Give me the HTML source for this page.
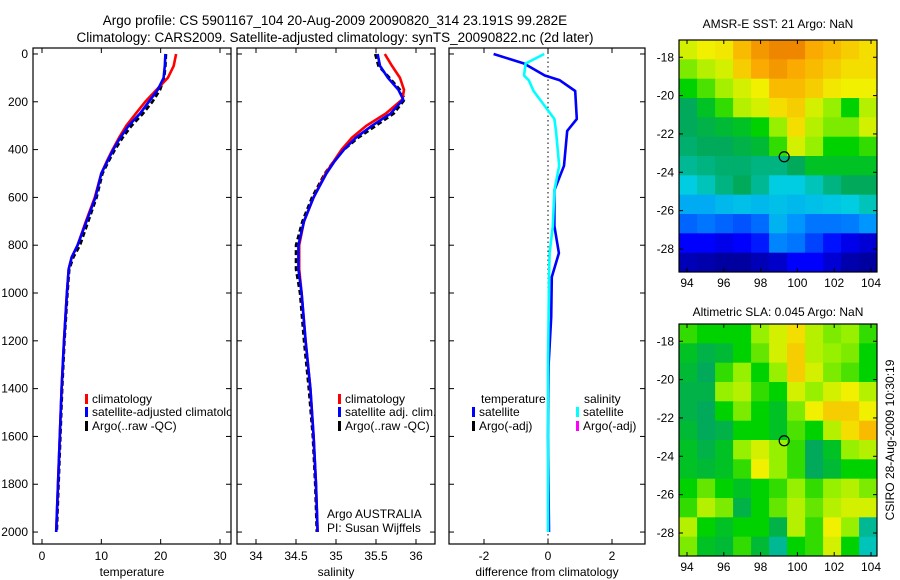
<!DOCTYPE html>
<html><head><meta charset="utf-8">
<style>
html,body{margin:0;padding:0;background:#fff;}
svg{display:block;font-family:"Liberation Sans",sans-serif;}
</style></head>
<body>
<svg id="chart" width="900" height="580" viewBox="0 0 900 580" xmlns="http://www.w3.org/2000/svg">
<text x="335" y="25" text-anchor="middle" font-size="13.5">Argo profile: CS 5901167_104 20-Aug-2009 20090820_314 23.191S 99.282E</text>
<text x="335" y="42" text-anchor="middle" font-size="13.5">Climatology: CARS2009. Satellite-adjusted climatology: synTS_20090822.nc (2d later)</text>
<text x="778" y="28" text-anchor="middle" font-size="12">AMSR-E SST: 21 Argo: NaN</text>
<text x="778" y="316" text-anchor="middle" font-size="12">Altimetric SLA: 0.045 Argo: NaN</text>
<text x="0" y="0" transform="translate(894,440) rotate(-90)" text-anchor="middle" font-size="12">CSIRO 28-Aug-2009 10:30:19</text>
</svg>
<script>
// ---- data ----
const depths = [0,50,100,150,200,250,300,350,400,450,500,600,700,800,850,900,1000,1200,1400,1600,1800,2000];
const tempSat = [20.8,20.7,20.5,19.5,18,16.5,14.6,13.2,12,11,10,9,7.5,6,5,4.5,4.2,3.7,3.3,3,2.7,2.4];
const tempClim = [22.6,22.2,21.2,19.3,17.4,15.8,14.2,13,11.9,10.9,10,8.9,7.4,6,5,4.5,4.2,3.7,3.3,3,2.7,2.4];
const tempArgo = [20.9,20.8,20.6,19.9,18.6,17,15.1,13.6,12.3,11.2,10.2,9.2,7.8,6.4,5.3,4.6,4.3,3.8,3.4,3.1,2.8,2.5];
const salDepths = [0,50,100,150,190,250,300,350,400,450,500,600,700,800,900,1000,1200,1400,1600,1800,2000];
const salSat = [35.52,35.55,35.65,35.78,35.84,35.68,35.45,35.25,35.1,34.98,34.88,34.72,34.6,34.53,34.53,34.57,34.62,34.68,34.72,34.75,34.77];
const salClim = [35.61,35.7,35.8,35.85,35.83,35.62,35.38,35.2,35.07,34.97,34.87,34.72,34.6,34.54,34.54,34.57,34.62,34.68,34.72,34.75,34.77];
const salArgo = [35.49,35.53,35.67,35.8,35.86,35.72,35.5,35.28,35.1,34.97,34.86,34.7,34.58,34.5,34.5,34.55,34.6,34.66,34.71,34.74,34.76];
const diffDepths = [0,40,90,110,155,272,322,468,570,720,833,933,1100,1300,1600,2000];
const diffTemp = [-1.7,-0.75,-0.1,0.37,0.85,0.9,0.6,0.5,0.2,0.2,0.34,0.12,0.1,0.02,0,0.03];
const diffSal = [-0.12,-0.7,-0.75,-0.6,-0.45,0.2,0.25,0.35,0.2,0.15,0.05,0.03,0.02,0,0,0];
const depthTicks = [0,200,400,600,800,1000,1200,1400,1600,1800,2000];
const tempTicks = [0,10,20,30];
const salTicks = [34,34.5,35,35.5,36];
const diffTicks = [-2,0,2];
const lonTicks = [94,96,98,100,102,104];
const latTicks = [-18,-20,-22,-24,-26,-28];
const sstGrid = [
[0.6,0.62,0.63,0.68,0.72,0.74,0.74,0.7,0.68,0.66,0.64],
[0.55,0.58,0.6,0.66,0.7,0.72,0.7,0.68,0.66,0.64,0.64],
[0.5,0.53,0.57,0.6,0.62,0.68,0.68,0.66,0.63,0.62,0.62],
[0.45,0.48,0.52,0.58,0.6,0.64,0.66,0.6,0.56,0.5,0.58],
[0.45,0.46,0.47,0.48,0.5,0.56,0.64,0.58,0.55,0.55,0.6],
[0.44,0.45,0.45,0.46,0.47,0.52,0.6,0.56,0.5,0.5,0.52],
[0.42,0.43,0.44,0.44,0.43,0.43,0.45,0.48,0.48,0.48,0.48],
[0.38,0.40,0.43,0.45,0.42,0.38,0.38,0.40,0.43,0.45,0.45],
[0.33,0.33,0.35,0.36,0.35,0.36,0.35,0.36,0.37,0.38,0.40],
[0.24,0.26,0.24,0.22,0.25,0.34,0.3,0.26,0.26,0.27,0.3],
[0.12,0.12,0.1,0.12,0.15,0.28,0.26,0.2,0.14,0.1,0.08],
[0.05,0.04,0.03,0.03,0.05,0.07,0.12,0.12,0.08,0.04,0.03]];
const slaGrid = [
[0.52,0.5,0.5,0.5,0.56,0.6,0.64,0.58,0.55,0.56,0.52],
[0.48,0.46,0.47,0.5,0.54,0.6,0.66,0.58,0.56,0.55,0.5],
[0.47,0.45,0.52,0.56,0.5,0.56,0.66,0.6,0.55,0.53,0.5],
[0.46,0.46,0.56,0.58,0.52,0.5,0.6,0.56,0.6,0.62,0.58],
[0.46,0.45,0.5,0.55,0.5,0.48,0.55,0.62,0.66,0.66,0.62],
[0.47,0.45,0.46,0.5,0.5,0.48,0.53,0.5,0.58,0.64,0.68],
[0.48,0.46,0.48,0.56,0.6,0.56,0.52,0.45,0.48,0.56,0.58],
[0.48,0.47,0.48,0.52,0.62,0.56,0.52,0.45,0.47,0.5,0.5],
[0.5,0.54,0.5,0.48,0.5,0.52,0.56,0.52,0.56,0.58,0.55],
[0.52,0.58,0.55,0.46,0.5,0.54,0.58,0.54,0.58,0.6,0.6],
[0.58,0.5,0.48,0.5,0.5,0.46,0.58,0.52,0.62,0.56,0.42],
[0.55,0.48,0.47,0.52,0.47,0.42,0.5,0.52,0.6,0.5,0.4]];
const argoLon = 99.282, argoLat = -23.191;

// ---- helpers ----
const svg = document.getElementById('chart');
const NS = 'http://www.w3.org/2000/svg';
function mk(tag, attrs, parent){const e=document.createElementNS(NS,tag);for(const k in attrs)e.setAttribute(k,attrs[k]);(parent||svg).appendChild(e);return e;}
function lin(d0,d1,r0,r1){return v=>r0+(v-d0)*(r1-r0)/(d1-d0);}
const top0=48, bot0=544;
const yD = lin(-25,2050,top0,bot0);

function panel(name,x0,x1,xs,xTicks,xTitle,showY){
  const g=mk('g',{});
  
  
  const r=mk('rect',{x:x0,y:top0,width:x1-x0,height:bot0-top0,fill:'#fff',stroke:'#000','stroke-width':1.2},g);
  
  
  depthTicks.forEach(d=>{
    const y=yD(d);
    mk('line',{x1:x0,x2:x0+5,y1:y,y2:y,stroke:'#000'},g);
    mk('line',{x1:x1-5,x2:x1,y1:y,y2:y,stroke:'#000'},g);
    if(showY){const t=mk('text',{x:x0-5,y:y+4,'text-anchor':'end','font-size':12},g);t.textContent=d;
      
      }
  });
  xTicks.forEach(v=>{
    const x=xs(v);
    mk('line',{x1:x,x2:x,y1:bot0,y2:bot0-5,stroke:'#000'},g);
    mk('line',{x1:x,x2:x,y1:top0,y2:top0+5,stroke:'#000'},g);
    const t=mk('text',{x:x,y:bot0+16,'text-anchor':'middle','font-size':12},g);t.textContent=v;
    
    
  });
  const tt=mk('text',{x:(x0+x1)/2,y:576,'text-anchor':'middle','font-size':12},g);tt.textContent=xTitle;
  
  
  return g;
}
function line(g,xs,xv,dv,color,name,dash){
  const p=xv.map((v,i)=>xs(v).toFixed(1)+','+yD(dv[i]).toFixed(1)).join(' ');
  const a={points:p,fill:'none',stroke:color,'stroke-width':2.6,'stroke-linejoin':'round'};
  if(dash)a['stroke-dasharray']=dash;
  const e=mk('polyline',a,g);
  
  
}
function legend(g,x,y,color,label){
  mk('rect',{x:x,y:y-9,width:3,height:10,fill:color},g);
  const t=mk('text',{x:x+7,y:y,'font-size':12},g);t.textContent=label;
  
  
}

// Panel 1 temperature
const xT=lin(0,30,42,220);
const g1=panel('temperature-panel',33,231,xT,tempTicks,'temperature',true);
line(g1,xT,tempArgo,depths,'#000','argo-temperature-line','5,3');
line(g1,xT,tempClim,depths,'#f00','climatology-temperature-line');
line(g1,xT,tempSat,depths,'#00f','satellite-temperature-line');
const cl1=mk('clipPath',{id:'c1'});mk('rect',{x:33,y:top0,width:198,height:bot0-top0},cl1);
const lg1=mk('g',{'clip-path':'url(#c1)'},g1);
legend(lg1,85,403,'#f00','climatology');
legend(lg1,85,416,'#00f','satellite-adjusted climatology');
legend(lg1,85,430,'#000','Argo(..raw -QC)');

// Panel 2 salinity
const xS=lin(34,36,256,416);
const g2=panel('salinity-panel',237,435,xS,salTicks,'salinity',false);
line(g2,xS,salArgo,salDepths,'#000','argo-salinity-line','5,3');
line(g2,xS,salClim,salDepths,'#f00','climatology-salinity-line');
line(g2,xS,salSat,salDepths,'#00f','satellite-salinity-line');
legend(g2,338,403,'#f00','climatology');
legend(g2,338,416,'#00f','satellite adj. clim.');
legend(g2,338,430,'#000','Argo(..raw -QC)');
[['Argo AUSTRALIA',518],['PI: Susan Wijffels',532]].forEach(([s,y])=>{const t=mk('text',{x:327,y:y,'font-size':12},g2);t.textContent=s;
  
  });

// Panel 3 difference
const xDf=lin(-2,2,484,612);
const g3=panel('difference-panel',449,645,xDf,diffTicks,'difference from climatology',false);
mk('line',{x1:xDf(0),x2:xDf(0),y1:top0,y2:bot0,stroke:'#000','stroke-dasharray':'1.5,3'},g3);
line(g3,xDf,diffTemp,diffDepths,'#00f','temperature-difference-line');
line(g3,xDf,diffSal,diffDepths,'#0ff','salinity-difference-line');
[['temperature',481],['salinity',584]].forEach(([s,x])=>{const t=mk('text',{x:x,y:403,'font-size':12},g3);t.textContent=s;
  
  });
legend(g3,472,416,'#00f','satellite');
legend(g3,472,430,'#000','Argo(-adj)');
legend(g3,576,416,'#0ff','satellite');
legend(g3,576,430,'#f0f','Argo(-adj)');

// ---- maps ----
const cstops=[[0,[0,0,130]],[0.12,[0,0,255]],[0.3,[0,150,255]],[0.38,[0,205,225]],[0.45,[0,170,90]],[0.5,[0,210,0]],[0.56,[150,240,0]],[0.62,[240,240,0]],[0.7,[250,170,0]],[0.8,[220,80,0]],[1,[130,0,0]]];
function cmap(v){for(let i=1;i<cstops.length;i++){if(v<=cstops[i][0]){const [a,ca]=cstops[i-1],[b,cb]=cstops[i];const t=(v-a)/(b-a);return 'rgb('+ca.map((c,j)=>Math.round(c+(cb[j]-c)*t)).join(',')+')';}}return 'rgb(130,0,0)';}
function mapPanel(name,grid,top,bot){
  const x0=679,x1=877;
  const g=mk('g',{});
  
  
  const xL=lin(94,104,687,871);
  const lon0=93.57, lon1=104.33;
  const lat0=-17.1, lat1=-29.2;
  const yL=lin(lat0,lat1,top,bot);
  const rows=grid.length, cols=grid[0].length;
  const dLon=(lon1-lon0)/cols, dLat=(lat0-lat1)/rows;
  grid.forEach((row,r)=>row.forEach((v,c)=>{
    const xa=xL(lon0+c*dLon), xb=xL(lon0+(c+1)*dLon);
    const ya=yL(lat0-r*dLat), yb=yL(lat0-(r+1)*dLat);
    const w=Math.min(xb-xa+0.6, x1-xa), h=Math.min(yb-ya+0.6, bot-ya);
    const e=mk('rect',{x:xa.toFixed(1),y:ya.toFixed(1),width:w.toFixed(1),height:h.toFixed(1),fill:cmap(v)},g);
    
    
  }));
  mk('rect',{x:x0,y:top,width:x1-x0,height:bot-top,fill:'none',stroke:'#000','stroke-width':1.2},g);
  lonTicks.forEach(v=>{const x=xL(v);mk('line',{x1:x,x2:x,y1:bot,y2:bot-4,stroke:'#000'},g);mk('line',{x1:x,x2:x,y1:top,y2:top+4,stroke:'#000'},g);
    const t=mk('text',{x:x,y:bot+15,'text-anchor':'middle','font-size':12},g);t.textContent=v;
    
    });
  latTicks.forEach(v=>{const y=yL(v);mk('line',{x1:x0,x2:x0+4,y1:y,y2:y,stroke:'#000'},g);mk('line',{x1:x1-4,x2:x1,y1:y,y2:y,stroke:'#000'},g);
    const t=mk('text',{x:x0-5,y:y+4,'text-anchor':'end','font-size':12},g);t.textContent=v;
    
    });
  const c=mk('circle',{cx:xL(argoLon),cy:yL(argoLat),r:5,fill:'none',stroke:'#000','stroke-width':1.2},g);
  
  
}
mapPanel('sst-map',sstGrid,40,272);
mapPanel('sla-map',slaGrid,324,556);
</script>
</body></html>
